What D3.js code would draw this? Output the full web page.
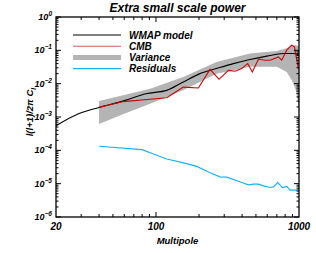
<!DOCTYPE html>
<html>
<head>
<meta charset="utf-8">
<script src="https://cdn.jsdelivr.net/npm/d3@7"></script>
<style>
  body { margin: 0; background: #fff; }
  text { font-family: "Liberation Sans", Arial, sans-serif; font-style: italic; font-weight: bold; }
</style>
</head>
<body>
<div id="chart"></div>
<script>
// multipole values
const wmapL = [20, 29, 40, 61, 85, 119, 155, 203, 265, 348, 454, 597, 777, 909, 990];
const wmapV = [5.5e-4, 1.28e-3, 1.94e-3, 3.15e-3, 5.0e-3, 6.3e-3, 1.12e-2, 2.0e-2, 2.84e-2, 4.0e-2, 5.3e-2, 6.7e-2, 8.0e-2, 8.0e-2, 7.5e-2];

const cmbL = [40, 59, 91, 119, 155, 198, 239, 276, 321, 357, 398, 438, 472, 520, 580, 628, 718, 757, 821, 889, 928, 990];
const cmbV = [1.94e-3, 2.9e-3, 3.4e-3, 3.8e-3, 7.9e-3, 7.4e-3, 2.7e-2, 1.35e-2, 2.5e-2, 2.36e-2, 2.84e-2, 4.0e-2, 2.24e-2, 5.4e-2, 5.06e-2, 5.06e-2, 6.36e-2, 5.06e-2, 1.01e-1, 1.43e-1, 1.27e-1, 2.84e-2];

const varL = [40, 60, 91, 155, 265, 454, 700, 820, 890, 950, 1000];
const varHi = [3.0e-3, 4.6e-3, 7.1e-3, 1.58e-2, 4.5e-2, 8.0e-2, 9.6e-2, 1.16e-1, 1.43e-1, 1.43e-1, 1.34e-1];
const varLo = [6.2e-4, 1.25e-3, 2.5e-3, 6.3e-3, 2.0e-2, 3.2e-2, 3.2e-2, 2.24e-2, 1.26e-2, 6.3e-3, 1.8e-3];

const resL = [40, 80, 96, 119, 151, 193, 237, 280, 313, 398, 443, 480, 520, 564, 628, 662, 710, 765, 821, 865, 990];
const resV = [1.32e-4, 1.05e-4, 7.8e-5, 5.5e-5, 4.35e-5, 3.3e-5, 2.17e-5, 1.6e-5, 1.57e-5, 1.08e-5, 9.2e-6, 9.7e-6, 9.7e-6, 8.6e-6, 7.65e-6, 8.0e-6, 1.08e-5, 7.65e-6, 8.3e-6, 6.4e-6, 6.4e-6];

const xTickLabels = [20, 100, 1000];
const yExponents = [0, -1, -2, -3, -4, -5, -6];
const legendItems = ["WMAP model", "CMB", "Variance", "Residuals"];

const W = 316, H = 253;
const margin = { top: 17, right: 17, bottom: 36, left: 56 };
const width = W - margin.left - margin.right;
const height = H - margin.top - margin.bottom;

const svg = d3.select("#chart").append("svg")
  .attr("width", W)
  .attr("height", H);

const g = svg.append("g").attr("transform", `translate(${margin.left},${margin.top})`);

const x = d3.scaleLog().domain([20, 1000]).range([0, width]);
const y = d3.scaleLog().domain([1e-6, 1]).range([height, 0]);

g.append("defs").append("clipPath").attr("id", "clip")
  .append("rect").attr("width", width).attr("height", height);

const plot = g.append("g").attr("clip-path", "url(#clip)");

// variance band
const varData = varL.map((l, i) => ({ l, hi: varHi[i], lo: varLo[i] }));
plot.append("path")
  .datum(varData)
  .attr("fill", "#b4b4b4")
  .attr("d", d3.area().x(d => x(d.l)).y0(d => y(d.lo)).y1(d => y(d.hi)));

const line = d3.line().x(d => x(d[0])).y(d => y(d[1]));

plot.append("path")
  .datum(wmapL.map((l, i) => [l, wmapV[i]]))
  .attr("fill", "none").attr("stroke", "#000").attr("stroke-width", 1.1)
  .attr("d", d3.line().curve(d3.curveMonotoneX).x(d => x(d[0])).y(d => y(d[1])));

plot.append("path")
  .datum(cmbL.map((l, i) => [l, cmbV[i]]))
  .attr("fill", "none").attr("stroke", "#d00000").attr("stroke-width", 1.1)
  .attr("d", line);

plot.append("path")
  .datum(resL.map((l, i) => [l, resV[i]]))
  .attr("fill", "none").attr("stroke", "#12b4f4").attr("stroke-width", 1.1)
  .attr("d", line);

// ticks on all four sides, pointing inwards
const xMinor = [];
[10, 100].forEach(base => { for (let k = 2; k <= 9; k++) { const v = base * k; if (v > 20 && v < 1000 && v !== 100) xMinor.push(v); } });
const yMinor = [];
yExponents.slice(1).forEach(e => { for (let k = 2; k <= 9; k++) yMinor.push(k * Math.pow(10, e)); });

const ticks = g.append("g").attr("stroke", "#000").attr("stroke-width", 1);
xMinor.forEach(v => {
  ticks.append("line").attr("x1", x(v)).attr("x2", x(v)).attr("y1", height).attr("y2", height - 3);
  ticks.append("line").attr("x1", x(v)).attr("x2", x(v)).attr("y1", 0).attr("y2", 3);
});
ticks.append("line").attr("x1", x(100)).attr("x2", x(100)).attr("y1", height).attr("y2", height - 5);
ticks.append("line").attr("x1", x(100)).attr("x2", x(100)).attr("y1", 0).attr("y2", 5);
yMinor.forEach(v => {
  ticks.append("line").attr("x1", 0).attr("x2", 2.5).attr("y1", y(v)).attr("y2", y(v));
  ticks.append("line").attr("x1", width).attr("x2", width - 2.5).attr("y1", y(v)).attr("y2", y(v));
});
yExponents.forEach(e => {
  const v = Math.pow(10, e);
  ticks.append("line").attr("x1", 0).attr("x2", 5).attr("y1", y(v)).attr("y2", y(v));
  ticks.append("line").attr("x1", width).attr("x2", width - 5).attr("y1", y(v)).attr("y2", y(v));
});

g.append("rect")
  .attr("width", width).attr("height", height)
  .attr("fill", "none").attr("stroke", "#000").attr("stroke-width", 1.3);

// tick labels
g.selectAll(".xl").data(xTickLabels).enter().append("text")
  .attr("x", d => x(d)).attr("y", height + 13)
  .attr("text-anchor", "middle").attr("font-size", 10)
  .text(d => d);

const yl = g.selectAll(".yl").data(yExponents).enter().append("text")
  .attr("x", -4).attr("y", d => y(Math.pow(10, d)) + 3)
  .attr("text-anchor", "end").attr("font-size", 9);
yl.append("tspan").text("10");
yl.append("tspan").attr("dy", -4).attr("font-size", 6.5).text(d => d === 0 ? "0" : "\u2212" + (-d));

// titles
svg.append("text")
  .attr("x", margin.left + width / 2).attr("y", 12)
  .attr("text-anchor", "middle").attr("font-size", 12)
  .text("Extra small scale power");

svg.append("text")
  .attr("x", margin.left + width / 2).attr("y", 244)
  .attr("text-anchor", "middle").attr("font-size", 9.5)
  .text("Multipole");

const ylab = svg.append("text")
  .attr("transform", `translate(33,${margin.top + 95}) rotate(-90)`)
  .attr("text-anchor", "middle").attr("font-size", 9.5);
ylab.append("tspan").text("l(l+1)/2\u03c0 C");
ylab.append("tspan").attr("dy", 2.5).attr("font-size", 7).text("l");

// legend
const legendStyles = [
  { stroke: "#000", w: 1.1 },
  { stroke: "#d06060", w: 1.1 },
  { stroke: "#b4b4b4", w: 5 },
  { stroke: "#12b4f4", w: 1.1 }
];
const legend = svg.append("g");
legendItems.forEach((name, i) => {
  const ly = 35 + i * 11.2;
  legend.append("line")
    .attr("x1", 73).attr("x2", 121).attr("y1", ly).attr("y2", ly)
    .attr("stroke", legendStyles[i].stroke).attr("stroke-width", legendStyles[i].w);
  legend.append("text")
    .attr("x", 129).attr("y", ly + 3.5).attr("font-size", 10)
    .text(name);
});
</script>
</body>
</html>
